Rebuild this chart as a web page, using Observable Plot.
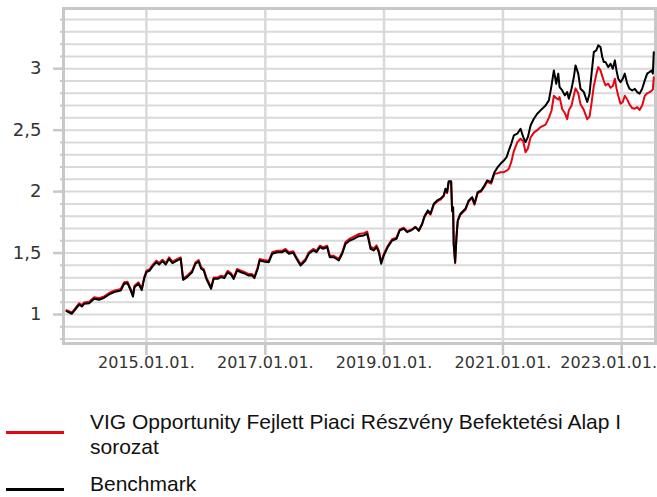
<!DOCTYPE html>
<html>
<head>
<meta charset="utf-8">
<script src="https://cdn.jsdelivr.net/npm/d3@7"></script>
<script src="https://cdn.jsdelivr.net/npm/@observablehq/plot@0.6"></script>
<style>
  html, body { margin: 0; padding: 0; background: #fff; }
  #wrap { position: relative; width: 657px; height: 497px; overflow: hidden; font-family: "Liberation Sans", Arial, sans-serif; }
  #chart { position: absolute; left: 0; top: 0; }
  .leg-line { position: absolute; left: 6px; width: 58px; height: 3px; }
  .leg-text { position: absolute; left: 90px; font-size: 21px; line-height: 25px; color: #111; white-space: nowrap; }
</style>
</head>
<body>
<div id="wrap">
  <div id="chart"></div>
  <div class="leg-line" style="top:431px;background:#e30613"></div>
  <div class="leg-text" style="top:409px">VIG Opportunity Fejlett Piaci Részvény Befektetési Alap I<br>sorozat</div>
  <div class="leg-line" style="top:488px;background:#000"></div>
  <div class="leg-text" style="top:474px;line-height:20px">Benchmark</div>
</div>
<script>
// decimal years
const years = [
2013.653,2013.742,2013.810,2013.867,2013.911,2013.951,2014.035,2014.120,2014.204,2014.288,
2014.372,2014.456,2014.567,2014.625,2014.680,2014.736,2014.773,2014.798,2014.865,2014.921,
2014.961,2015.000,2015.056,2015.101,2015.168,2015.214,2015.269,2015.325,2015.382,2015.438,
2015.522,2015.577,2015.618,2015.685,2015.769,2015.825,2015.880,2015.921,2015.965,2016.010,
2016.049,2016.089,2016.133,2016.200,2016.258,2016.313,2016.369,2016.426,2016.470,2016.527,
2016.594,2016.667,2016.722,2016.779,2016.818,2016.874,2016.907,2016.975,2017.059,2017.116,
2017.200,2017.285,2017.340,2017.396,2017.470,2017.525,2017.593,2017.677,2017.732,2017.806,
2017.862,2017.917,2017.975,2018.042,2018.086,2018.153,2018.237,2018.295,2018.350,2018.423,
2018.490,2018.574,2018.658,2018.715,2018.742,2018.771,2018.827,2018.872,2018.911,2018.951,
2018.995,2019.062,2019.136,2019.209,2019.264,2019.332,2019.389,2019.456,2019.529,2019.584,
2019.641,2019.680,2019.736,2019.781,2019.837,2019.894,2019.949,2020.005,2020.034,2020.062,
2020.089,2020.130,2020.146,2020.163,2020.173,2020.197,2020.219,2020.241,2020.286,2020.370,
2020.426,2020.483,2020.522,2020.577,2020.635,2020.690,2020.736,2020.803,2020.859,2020.914,
2020.960,2021.015,2021.061,2021.099,2021.140,2021.183,2021.241,2021.296,2021.342,2021.380,
2021.419,2021.465,2021.520,2021.577,2021.633,2021.717,2021.773,2021.818,2021.857,2021.897,
2021.931,2021.953,2021.998,2022.042,2022.082,2022.109,2022.155,2022.194,2022.222,2022.268,
2022.306,2022.362,2022.419,2022.458,2022.492,2022.530,2022.571,2022.604,2022.643,2022.672,
2022.699,2022.727,2022.773,2022.811,2022.850,2022.884,2022.912,2022.941,2022.980,2023.018,
2023.052,2023.093,2023.131,2023.177,2023.220,2023.261,2023.300,2023.345,2023.389,2023.429,
2023.468,2023.502,2023.524,2023.540
];
const benchmark = [
1.027,1.006,1.046,1.081,1.065,1.087,1.092,1.128,1.120,1.136,
1.163,1.182,1.195,1.250,1.255,1.195,1.146,1.222,1.250,1.200,
1.290,1.344,1.358,1.390,1.426,1.407,1.434,1.407,1.453,1.418,
1.440,1.453,1.282,1.304,1.344,1.413,1.431,1.372,1.358,1.290,
1.250,1.209,1.290,1.290,1.304,1.296,1.344,1.323,1.290,1.358,
1.344,1.331,1.317,1.317,1.296,1.372,1.440,1.431,1.426,1.494,
1.507,1.507,1.521,1.494,1.502,1.453,1.399,1.440,1.494,1.521,
1.507,1.548,1.535,1.548,1.466,1.466,1.440,1.494,1.575,1.602,
1.616,1.637,1.643,1.657,1.602,1.535,1.521,1.548,1.507,1.413,
1.480,1.548,1.602,1.616,1.684,1.698,1.670,1.684,1.711,1.684,
1.738,1.800,1.847,1.820,1.901,1.928,1.942,1.969,2.023,1.996,
2.085,2.085,1.847,1.874,1.575,1.426,1.629,1.765,1.820,1.860,
1.928,1.955,1.901,1.996,2.009,2.050,2.091,2.077,2.158,2.199,
2.226,2.253,2.280,2.335,2.389,2.457,2.471,2.511,2.443,2.403,
2.443,2.538,2.593,2.634,2.661,2.701,2.742,2.864,2.986,2.878,
2.960,2.850,2.823,2.783,2.810,2.756,2.837,2.932,3.027,2.960,
2.837,2.810,2.729,2.797,2.960,3.135,3.149,3.190,3.176,3.095,
3.054,3.054,3.013,3.040,3.000,3.068,2.986,2.918,2.891,2.918,
2.960,2.878,2.837,2.823,2.837,2.810,2.797,2.837,2.905,2.960,
2.973,2.986,2.960,3.135
];
const fund = [
1.035,1.016,1.056,1.092,1.076,1.098,1.104,1.140,1.132,1.148,
1.175,1.194,1.207,1.262,1.267,1.207,1.158,1.234,1.262,1.212,
1.302,1.356,1.370,1.402,1.438,1.419,1.446,1.419,1.465,1.430,
1.452,1.465,1.294,1.316,1.356,1.425,1.443,1.384,1.370,1.302,
1.262,1.221,1.302,1.302,1.316,1.308,1.356,1.335,1.302,1.370,
1.356,1.343,1.329,1.329,1.308,1.384,1.452,1.443,1.438,1.506,
1.519,1.519,1.533,1.506,1.514,1.465,1.411,1.452,1.506,1.533,
1.519,1.560,1.547,1.560,1.478,1.478,1.452,1.506,1.590,1.618,
1.634,1.655,1.662,1.675,1.618,1.552,1.538,1.563,1.522,1.428,
1.492,1.558,1.612,1.626,1.692,1.706,1.678,1.690,1.714,1.680,
1.732,1.792,1.839,1.812,1.893,1.920,1.934,1.961,2.015,1.988,
2.077,2.077,1.839,1.866,1.567,1.418,1.621,1.757,1.812,1.852,
1.920,1.947,1.893,1.988,2.001,2.040,2.080,2.065,2.145,2.150,
2.158,2.158,2.170,2.186,2.240,2.330,2.400,2.430,2.410,2.320,
2.350,2.440,2.480,2.500,2.525,2.545,2.600,2.660,2.780,2.760,
2.750,2.769,2.670,2.640,2.590,2.661,2.701,2.783,2.840,2.800,
2.710,2.665,2.590,2.610,2.720,2.860,2.950,3.013,2.986,2.940,
2.900,2.864,2.878,2.845,2.860,2.918,2.840,2.780,2.715,2.729,
2.780,2.750,2.710,2.680,2.674,2.688,2.665,2.700,2.780,2.800,
2.810,2.820,2.830,2.930
];
const xTickLabels = ["2015.01.01.", "2017.01.01.", "2019.01.01.", "2021.01.01.", "2023.01.01."];
const yMajorTicks = [1, 1.5, 2, 2.5, 3];
const yMinorTicks = [0.8, 0.9, 1, 1.1, 1.2, 1.3, 1.4, 1.5, 1.6, 1.7, 1.8, 1.9, 2, 2.1, 2.2, 2.3, 2.4, 2.5, 2.6, 2.7, 2.8, 2.9, 3, 3.1, 3.2, 3.3, 3.4];
const xDomainYears = [2013.603, 2023.569];
const yDomain = [0.764, 3.49];

const toDate = y => { const f = Math.floor(y); return new Date(Date.UTC(f, 0, 1) + (y - f) * 365.25 * 864e5); };
const parseLabel = s => { const p = s.split("."); return new Date(Date.UTC(+p[0], +p[1] - 1, +p[2])); };
const xTicks = xTickLabels.map(parseLabel);
const labelMap = new Map(xTicks.map((d, i) => [+d, xTickLabels[i]]));

const fundData = years.map((y, i) => ({date: toDate(y), value: fund[i]}));
const benchData = years.map((y, i) => ({date: toDate(y), value: benchmark[i]}));

const xAxisOpts = {tickSize: 12, tickPadding: 1, tickFormat: d => labelMap.get(+d), stroke: "#c8c8c8", strokeWidth: 2.5, fill: "#333", fontSize: 16, label: null};

const chart = Plot.plot({
  width: 657,
  height: 383,
  marginLeft: 63,
  marginRight: 2,
  marginTop: 8,
  marginBottom: 40,
  style: {fontFamily: "DejaVu Sans, Verdana, sans-serif", background: "white", overflow: "visible"},
  x: {type: "utc", domain: xDomainYears.map(toDate)},
  y: {domain: yDomain},
  marks: [
    Plot.gridY(yMinorTicks, {stroke: "#d9d9d9", strokeWidth: 2, strokeOpacity: 1}),
    Plot.gridX(xTicks, {stroke: "#d9d9d9", strokeWidth: 2.5, strokeOpacity: 1}),
    Plot.frame({stroke: "#c8c8c8", strokeWidth: 3}),
    Plot.axisY(yMinorTicks, {tickSize: 3, tickFormat: () => "", stroke: "#c8c8c8", strokeWidth: 2, label: null}),
    Plot.axisY(yMajorTicks, {tickSize: 10, tickPadding: 12, tickFormat: d => String(d).replace(".", ","), stroke: "#c8c8c8", strokeWidth: 2.5, fill: "#333", fontSize: 18, label: null}),
    Plot.axisX(xTicks.slice(0, -1), xAxisOpts),
    Plot.axisX(xTicks.slice(-1), {...xAxisOpts, tickFormat: () => ""}),
    Plot.axisX(xTicks.slice(-1), {...xAxisOpts, stroke: "none", dx: -13}),
    Plot.line(fundData, {x: "date", y: "value", stroke: "#e30613", strokeWidth: 2}),
    Plot.line(benchData, {x: "date", y: "value", stroke: "#000", strokeWidth: 2})
  ]
});
document.getElementById("chart").appendChild(chart);
</script>
</body>
</html>
